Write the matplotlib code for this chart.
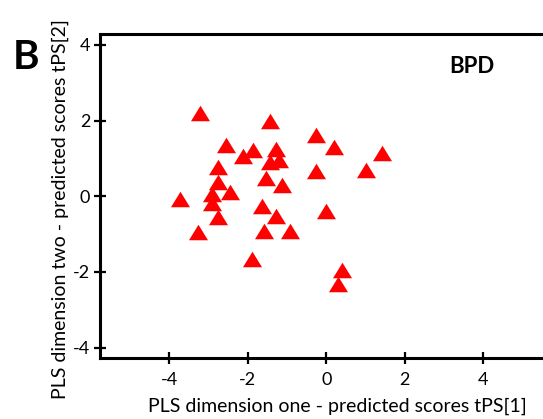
import matplotlib
matplotlib.use('Agg')
import matplotlib.pyplot as plt

# PLS scores, BPD group ------------------------------------------------------
tps1 = [-3.22, -1.43, -2.55, -0.26, 0.21, 1.43, -2.13, -1.87,
        -1.28, -1.43, -1.21, -2.76, -1.53, -1.13, -2.76, -2.45,
        -2.91, -2.91, -2.76, -1.64, -1.28, -3.27, -1.59, -0.92,
        -0.26, 1.01, -3.73, -0.01, -1.89, 0.40, 0.30]
tps2 = [2.21, 1.99, 1.36, 1.61, 1.30, 1.14, 1.07, 1.21,
        1.25, 0.91, 0.95, 0.77, 0.48, 0.30, 0.37, 0.12,
        0.05, -0.17, -0.56, -0.26, -0.52, -0.94, -0.91, -0.91,
        0.66, 0.70, -0.08, -0.38, -1.66, -1.96, -2.31]
xticks = [-4, -2, 0, 2, 4]
yticks = [-4, -2, 0, 2, 4]

plt.rcParams['font.family'] = ['Lato', 'DejaVu Sans']
plt.rcParams['axes.unicode_minus'] = False

fig = plt.figure(figsize=(5.43, 4.19), dpi=100)
ax = fig.add_axes([0.1842, 0.1449, 0.8158, 0.7751])

# driehoek marker
tri = [(-1, -0.816), (1, -0.816), (0, 0.816)]
ax.plot(tps1, tps2, linestyle='none', marker=tri, markersize=13.7,
        color='#ff0000', markeredgecolor='none')

ax.set_xlim(-5.76, 5.52)
ax.set_ylim(-4.28, 4.30)
ax.set_xticks(xticks)
ax.set_yticks(yticks)
ax.tick_params(direction='inout', length=8, width=1.6, labelsize=13)
ax.tick_params(axis='x', pad=6)
ax.tick_params(axis='y', pad=3)
for s in ['left', 'bottom', 'top']:
    ax.spines[s].set_linewidth(2.2)
ax.spines['right'].set_visible(False)

ax.set_xlabel('PLS dimension one - predicted scores tPS[1]', fontsize=14)
ax.set_ylabel('PLS dimension two - predicted scores tPS[2]', fontsize=14)
ax.xaxis.set_label_coords(0.536, -0.122)
ax.yaxis.set_label_coords(-0.07, 0.46)

ax.text(0.788, 0.878, 'BPD', transform=ax.transAxes, fontsize=16,
        fontweight='bold', va='baseline')
fig.text(0.024, 0.835, 'B', fontsize=29, fontweight='bold')

fig.savefig('out.png', dpi=100)
